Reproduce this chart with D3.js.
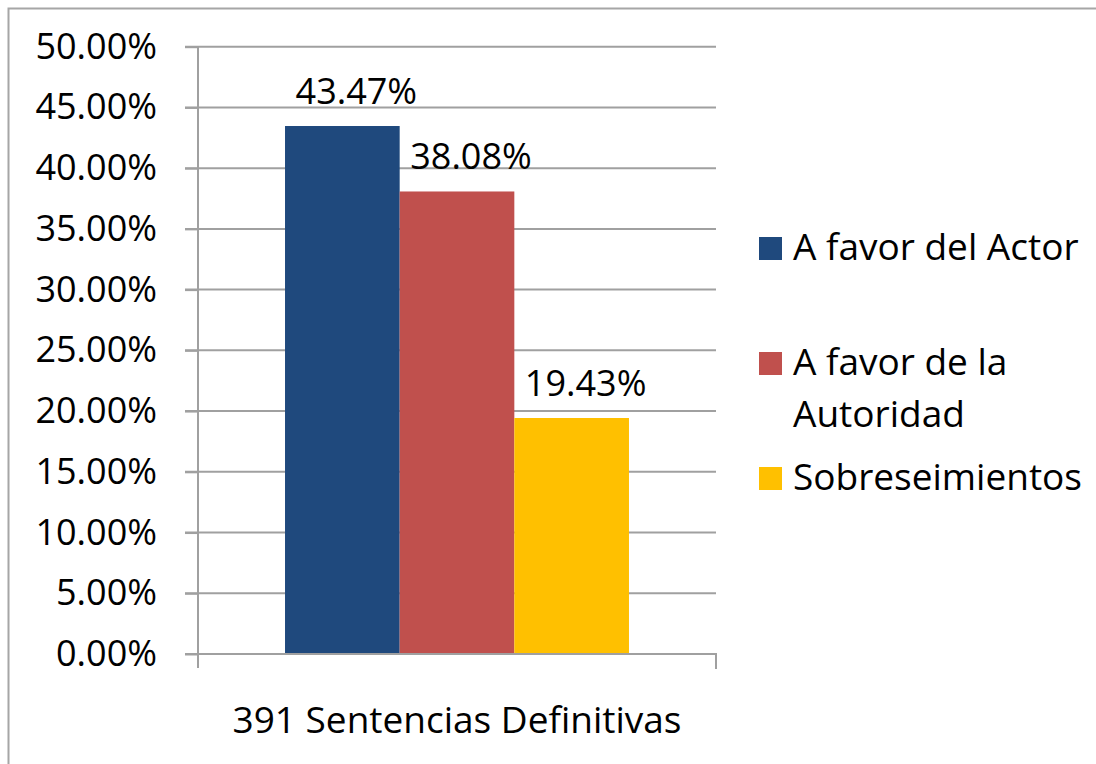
<!DOCTYPE html>
<html>
<head>
<meta charset="utf-8">
<script src="https://cdn.jsdelivr.net/npm/d3@7"></script>
<style>
  body { margin: 0; background: #fff; }
  svg text { font-family: "Open Sans", sans-serif; fill: #000; }
</style>
</head>
<body>
<div id="chart"></div>
<script>
const category = "391 Sentencias Definitivas";
const seriesNames = ["A favor del Actor", "A favor de la|Autoridad", "Sobreseimientos"];
const seriesValues = [43.47, 38.08, 19.43];
const seriesColors = ["#1f497d", "#c0504d", "#ffc000"];
const yTicks = [0, 5, 10, 15, 20, 25, 30, 35, 40, 45, 50];

const w = 1096;
const h = 764;
const plotLeft = 198, plotRight = 716, plotTop = 46.7, plotBottom = 654;

const svg = d3.select("#chart")
  .append("svg")
  .attr("width", w)
  .attr("height", h);

// frame (only top and left edges visible)
svg.append("path")
  .attr("d", `M8.5,${h} V8.5 H${w}`)
  .attr("fill", "none")
  .attr("stroke", "#a6a6a6")
  .attr("stroke-width", 2);

const yScale = d3.scaleLinear()
  .domain([0, 50])
  .range([plotBottom, plotTop]);

const xOuter = d3.scaleBand()
  .domain([category])
  .range([plotLeft, plotRight])
  .paddingInner(0)
  .paddingOuter(0.253);

const xInner = d3.scaleBand()
  .domain(d3.range(seriesValues.length))
  .range([0, xOuter.bandwidth()]);

// grid lines
svg.append("g")
  .selectAll("line")
  .data(yTicks.filter(d => d > 0))
  .enter()
  .append("line")
  .attr("x1", plotLeft - 13)
  .attr("x2", plotRight)
  .attr("y1", d => yScale(d))
  .attr("y2", d => yScale(d))
  .attr("stroke", "#a0a0a0")
  .attr("stroke-width", 2);

// y axis
const yAxis = d3.axisLeft(yScale)
  .tickValues(yTicks)
  .tickSize(13)
  .tickPadding(28)
  .tickFormat(d => d.toFixed(2) + "%");

svg.append("g")
  .attr("transform", "translate(" + plotLeft + ",0)")
  .call(yAxis)
  .call(g => g.select(".domain").remove())
  .call(g => g.selectAll(".tick line").attr("stroke", "#a0a0a0").attr("stroke-width", 2))
  .call(g => g.selectAll(".tick text")
    .attr("font-size", 36)
    .attr("font-family", "Open Sans")
    .attr("fill", "#000"));

svg.append("line")
  .attr("x1", plotLeft).attr("x2", plotLeft)
  .attr("y1", plotTop).attr("y2", plotBottom + 14)
  .attr("stroke", "#a0a0a0")
  .attr("stroke-width", 2);

// bars
const barG = svg.append("g")
  .attr("transform", "translate(" + xOuter(category) + ",0)");

barG.selectAll("rect")
  .data(seriesValues)
  .enter()
  .append("rect")
  .attr("x", (d, i) => xInner(i))
  .attr("y", d => yScale(d))
  .attr("width", xInner.bandwidth())
  .attr("height", d => plotBottom - yScale(d))
  .attr("fill", (d, i) => seriesColors[i]);

// data labels (sit a little right of centre, as in the source)
barG.selectAll("text")
  .data(seriesValues)
  .enter()
  .append("text")
  .attr("x", (d, i) => xInner(i) + xInner.bandwidth() / 2 + 14)
  .attr("y", d => yScale(d) - 22)
  .attr("text-anchor", "middle")
  .attr("font-size", 36)
  .text(d => d.toFixed(2) + "%");

// x axis
const xAxis = d3.axisBottom(xOuter)
  .tickSize(0)
  .tickPadding(53);

svg.append("g")
  .attr("transform", "translate(0," + plotBottom + ")")
  .call(xAxis)
  .call(g => g.select(".domain")
    .attr("d", `M${plotLeft - 13},0 H${plotRight} V15 M${plotLeft},0 V14`)
    .attr("stroke", "#a0a0a0")
    .attr("stroke-width", 2)
    .attr("fill", "none"))
  .call(g => g.selectAll(".tick text")
    .attr("font-size", 37)
    .attr("font-family", "Open Sans")
    .attr("fill", "#000"));

// legend
const legendY = [237, 352, 467];
const legend = svg.append("g");
seriesNames.forEach((name, i) => {
  legend.append("rect")
    .attr("x", 759)
    .attr("y", legendY[i])
    .attr("width", 23)
    .attr("height", 23)
    .attr("fill", seriesColors[i]);
  const t = legend.append("text")
    .attr("x", 793)
    .attr("y", legendY[i] + 23)
    .attr("font-size", 37);
  name.split("|").forEach((line, j) => {
    t.append("tspan")
      .attr("x", 793)
      .attr("dy", j === 0 ? 0 : 52)
      .text(line);
  });
});
</script>
</body>
</html>
